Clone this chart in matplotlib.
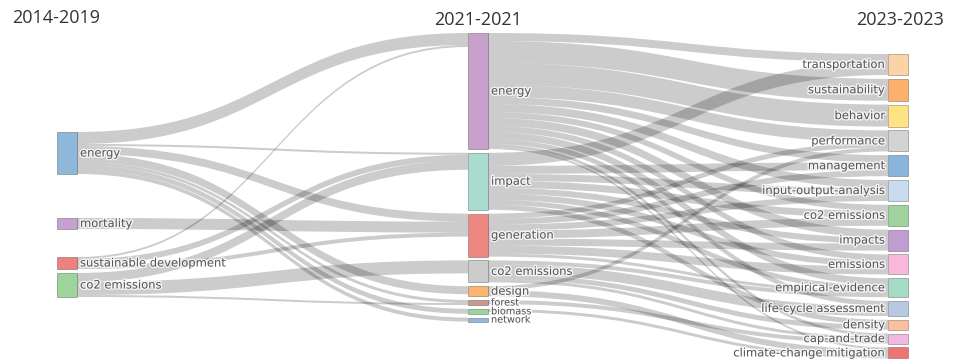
import numpy as np
import matplotlib.pyplot as plt
from matplotlib.patches import Rectangle, PathPatch
from matplotlib.path import Path
import matplotlib.patheffects as pe

# ---------------- data ----------------
periods = ['2014-2019', '2021-2021', '2023-2023']

nodes_1 = ['energy', 'mortality', 'sustainable development', 'co2 emissions']
nodes_2 = ['energy', 'impact', 'generation', 'co2 emissions', 'design', 'forest', 'biomass', 'network']
nodes_3 = ['transportation', 'sustainability', 'behavior', 'performance', 'management',
           'input-output-analysis', 'co2 emissions', 'impacts', 'emissions', 'empirical-evidence',
           'life-cycle assessment', 'density', 'cap-and-trade', 'climate-change mitigation']

colors_1 = ['#8fb7da', '#c6a0d2', '#ef8080', '#9cd49c']
colors_2 = ['#c7a1cc', '#a9dccf', '#ee8682', '#cccccc', '#fdb46e', '#c99a8b', '#9ad49a', '#94b8dc']
colors_3 = ['#fdd2a6', '#fdaf6c', '#ffe283', '#d3d3d3', '#8ab4dc', '#c8dcef', '#9fd39b', '#c19cd0',
            '#f8b8da', '#a6dcc7', '#b7c9e2', '#fdc09c', '#f3b8df', '#ee7474']

# links 2014-2019 -> 2021-2021
src_a = ['energy'] * 7 + ['mortality'] + ['sustainable development'] * 3 + ['co2 emissions'] * 3
tgt_a = ['energy', 'impact', 'generation', 'design', 'forest', 'biomass', 'network',
         'generation',
         'energy', 'impact', 'generation',
         'impact', 'co2 emissions', 'forest']
val_a = [12, 2, 8, 8, 3, 5, 4, 11, 2, 6, 4, 9, 13, 2]

# links 2021-2021 -> 2023-2023
src_b = (['energy'] * 13 + ['impact'] * 8 + ['generation'] * 7 + ['co2 emissions'] * 4
         + ['design'] * 2 + ['forest'] + ['biomass'])
tgt_b = ['transportation', 'sustainability', 'behavior', 'performance', 'management',
         'input-output-analysis', 'co2 emissions', 'impacts', 'emissions', 'empirical-evidence',
         'life-cycle assessment', 'cap-and-trade', 'climate-change mitigation',
         'transportation', 'management', 'input-output-analysis', 'co2 emissions', 'impacts',
         'emissions', 'empirical-evidence', 'density',
         'performance', 'management', 'input-output-analysis', 'co2 emissions', 'impacts',
         'emissions', 'empirical-evidence',
         'empirical-evidence', 'life-cycle assessment', 'density', 'cap-and-trade',
         'performance', 'climate-change mitigation',
         'cap-and-trade',
         'climate-change mitigation']
val_b = [8, 22, 22, 12, 7, 8, 6, 8, 6, 7, 5, 3, 2,
         13, 8, 7, 7, 6, 6, 5, 5,
         5, 6, 6, 8, 7, 8, 3,
         4, 10, 5, 3,
         4, 6,
         4,
         3]

# ---------------- layout ----------------
W, H = 956, 362
col_x = [57, 468, 888]
node_w = 20
pad = 3.8
col_top = [None, 33, 54]
col1_tops = [132, 218, 257, 273]

columns = [nodes_1, nodes_2, nodes_3]
colors = [colors_1, colors_2, colors_3]
links = [(0, src_a, tgt_a, val_a), (1, src_b, tgt_b, val_b)]

# node sizes = max(inflow, outflow)
inflow = [dict.fromkeys(c, 0) for c in columns]
outflow = [dict.fromkeys(c, 0) for c in columns]
for c, s, t, v in links:
    for a, b, w in zip(s, t, v):
        outflow[c][a] += w
        inflow[c + 1][b] += w
size = [{n: max(inflow[c][n], outflow[c][n]) for n in columns[c]} for c in range(3)]

tops = []
for c in range(3):
    d = {}
    if c == 0:
        for n, y in zip(columns[c], col1_tops):
            d[n] = y
    else:
        y = col_top[c]
        for n in columns[c]:
            d[n] = y
            y += size[c][n] + pad
    tops.append(d)


def center(c, n):
    return tops[c][n] + size[c][n] / 2


fig = plt.figure(figsize=(W / 100, H / 100), dpi=100)
ax = fig.add_axes([0, 0, 1, 1])
ax.set_xlim(0, W)
ax.set_ylim(H, 0)
ax.axis('off')

# links
for c, s, t, v in links:
    out_off = {n: tops[c][n] for n in columns[c]}
    in_off = {n: tops[c + 1][n] for n in columns[c + 1]}
    idx = list(range(len(v)))
    y0s, y1s = {}, {}
    for i in sorted(idx, key=lambda i: (columns[c].index(s[i]), center(c + 1, t[i]))):
        y0s[i] = out_off[s[i]]
        out_off[s[i]] += v[i]
    for i in sorted(idx, key=lambda i: (columns[c + 1].index(t[i]), center(c, s[i]))):
        y1s[i] = in_off[t[i]]
        in_off[t[i]] += v[i]
    x0 = col_x[c] + node_w
    x1 = col_x[c + 1]
    xm = (x0 + x1) / 2
    for i in idx:
        a, b, w = y0s[i], y1s[i], v[i]
        verts = [(x0, a), (xm, a), (xm, b), (x1, b), (x1, b + w),
                 (xm, b + w), (xm, a + w), (x0, a + w), (x0, a)]
        codes = [Path.MOVETO, Path.CURVE4, Path.CURVE4, Path.CURVE4, Path.LINETO,
                 Path.CURVE4, Path.CURVE4, Path.CURVE4, Path.CLOSEPOLY]
        ax.add_patch(PathPatch(Path(verts, codes), facecolor=(0, 0, 0, 0.2),
                               edgecolor='none', zorder=1))

# nodes and labels
halo = [pe.withStroke(linewidth=2, foreground='white', alpha=0.8)]
for c in range(3):
    for n, col in zip(columns[c], colors[c]):
        ax.add_patch(Rectangle((col_x[c], tops[c][n]), node_w, size[c][n],
                               facecolor=col, edgecolor=(0, 0, 0, 0.3), lw=0.6, zorder=3))
        fs = 8.3 if size[c][n] >= 8 else 7.0
        if c < 2:
            ax.text(col_x[c] + node_w + 3, center(c, n), n, ha='left', va='center',
                    fontsize=fs, color='#555555', zorder=4, path_effects=halo)
        else:
            ax.text(col_x[c] - 3, center(c, n), n, ha='right', va='center',
                    fontsize=fs, color='#555555', zorder=4, path_effects=halo)

# period titles
tkw = dict(va='center', fontsize=13, color='#333333', family='Open Sans')
ax.text(12, 18, periods[0], ha='left', **tkw)
ax.text(478, 20, periods[1], ha='center', **tkw)
ax.text(944, 20, periods[2], ha='right', **tkw)

fig.savefig('out.png', dpi=100)
